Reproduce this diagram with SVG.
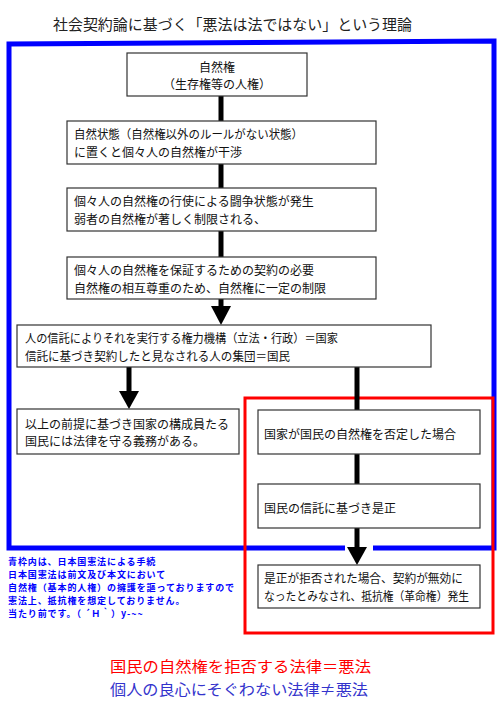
<svg xmlns="http://www.w3.org/2000/svg" width="500" height="709" viewBox="0 0 500 709">
<style>
  text { font-family: "Noto Sans CJK JP", "Noto Sans", sans-serif; dominant-baseline: central; }
  .box rect { fill: #ffffff; stroke: #333333; stroke-width: 1.2; }
  .box text { font-size: 12px; fill: #111111; }
  .conn line { stroke: #000000; stroke-width: 5; }
  .conn path { fill: #000000; }
  .note { font-size: 9px; font-weight: bold; fill: #0000ff; letter-spacing: 0.9px; }
</style>
<rect width="500" height="709" fill="#ffffff"/>

<text x="53" y="23" font-size="15" fill="#222222" textLength="359" lengthAdjust="spacingAndGlyphs">社会契約論に基づく「悪法は法ではない」という理論</text>

<g id="frames">
  <path d="M345,548 L9,548 L9,44 L494,41 L494,548 L373,548" fill="none" stroke="#0000ff" stroke-width="5"/>
  <rect x="245" y="398" width="248" height="235" fill="none" stroke="#ff0000" stroke-width="3"/>
</g>

<g id="connectors" class="conn">
  <line x1="221" y1="96" x2="221" y2="121"/>
  <line x1="221" y1="164" x2="221" y2="188"/>
  <line x1="221" y1="231" x2="221" y2="257"/>
  <line x1="221" y1="299" x2="221" y2="308"/>
  <path d="M211,306 L231,306 L221,325 Z"/>
  <line x1="129" y1="367" x2="129" y2="393"/>
  <path d="M119,391 L139,391 L129,409 Z"/>
  <line x1="357" y1="367" x2="357" y2="410"/>
  <line x1="357" y1="454" x2="357" y2="484"/>
  <line x1="357" y1="528" x2="357" y2="549"/>
  <path d="M347,547 L367,547 L357,565 Z"/>
</g>

<g id="n1" class="box">
  <rect x="127" y="53" width="180" height="43"/>
  <text x="217" y="66" text-anchor="middle">自然権</text>
  <text x="217" y="83.5" text-anchor="middle">（生存権等の人権）</text>
</g>
<g id="n2" class="box">
  <rect x="67" y="121" width="309" height="43"/>
  <text x="74" y="133.5" textLength="229" lengthAdjust="spacingAndGlyphs">自然状態（自然権以外のルールがない状態）</text>
  <text x="74" y="151">に置くと個々人の自然権が干渉</text>
</g>
<g id="n3" class="box">
  <rect x="67" y="188" width="309" height="43"/>
  <text x="74" y="200.5">個々人の自然権の行使による闘争状態が発生</text>
  <text x="74" y="218">弱者の自然権が著しく制限される、</text>
</g>
<g id="n4" class="box">
  <rect x="67" y="257" width="309" height="42"/>
  <text x="74" y="269.5">個々人の自然権を保証するための契約の必要</text>
  <text x="74" y="287">自然権の相互尊重のため、自然権に一定の制限</text>
</g>
<g id="n5" class="box">
  <rect x="17" y="325" width="414" height="42"/>
  <text x="25" y="337.5" textLength="313" lengthAdjust="spacingAndGlyphs">人の信託によりそれを実行する権力機構（立法・行政）＝国家</text>
  <text x="25" y="355" textLength="265" lengthAdjust="spacingAndGlyphs">信託に基づき契約したと見なされる人の集団＝国民</text>
</g>
<g id="n6" class="box">
  <rect x="17" y="409" width="222" height="45"/>
  <text x="25" y="423">以上の前提に基づき国家の構成員たる</text>
  <text x="25" y="440.5">国民には法律を守る義務がある。</text>
</g>
<g id="n7" class="box">
  <rect x="258" y="410" width="222" height="44"/>
  <text x="264" y="433">国家が国民の自然権を否定した場合</text>
</g>
<g id="n8" class="box">
  <rect x="258" y="484" width="222" height="44"/>
  <text x="264" y="507">国民の信託に基づき是正</text>
</g>
<g id="n9" class="box">
  <rect x="258" y="565" width="222" height="43"/>
  <text x="264" y="577.5" textLength="199" lengthAdjust="spacingAndGlyphs">是正が拒否された場合、契約が無効に</text>
  <text x="264" y="595" textLength="205" lengthAdjust="spacingAndGlyphs">なったとみなされ、抵抗権（革命権）発生</text>
</g>

<g id="note">
  <text class="note" x="8" y="561">青枠内は、日本国憲法による手続</text>
  <text class="note" x="8" y="574.2">日本国憲法は前文及び本文において</text>
  <text class="note" x="8" y="587.4">自然権（基本的人権）の擁護を謳っておりますので</text>
  <text class="note" x="8" y="600.6">憲法上、抵抗権を想定しておりません。</text>
  <text class="note" x="8" y="613.8">当たり前です。（ ´Ｈ｀）y-~~</text>
</g>

<g id="summary">
  <text x="110" y="665.5" font-size="15" fill="#ff0000" textLength="261" lengthAdjust="spacingAndGlyphs">国民の自然権を拒否する法律＝悪法</text>
  <text x="110" y="688" font-size="15" fill="#3333cc" textLength="258" lengthAdjust="spacingAndGlyphs">個人の良心にそぐわない法律≠悪法</text>
</g>
</svg>
